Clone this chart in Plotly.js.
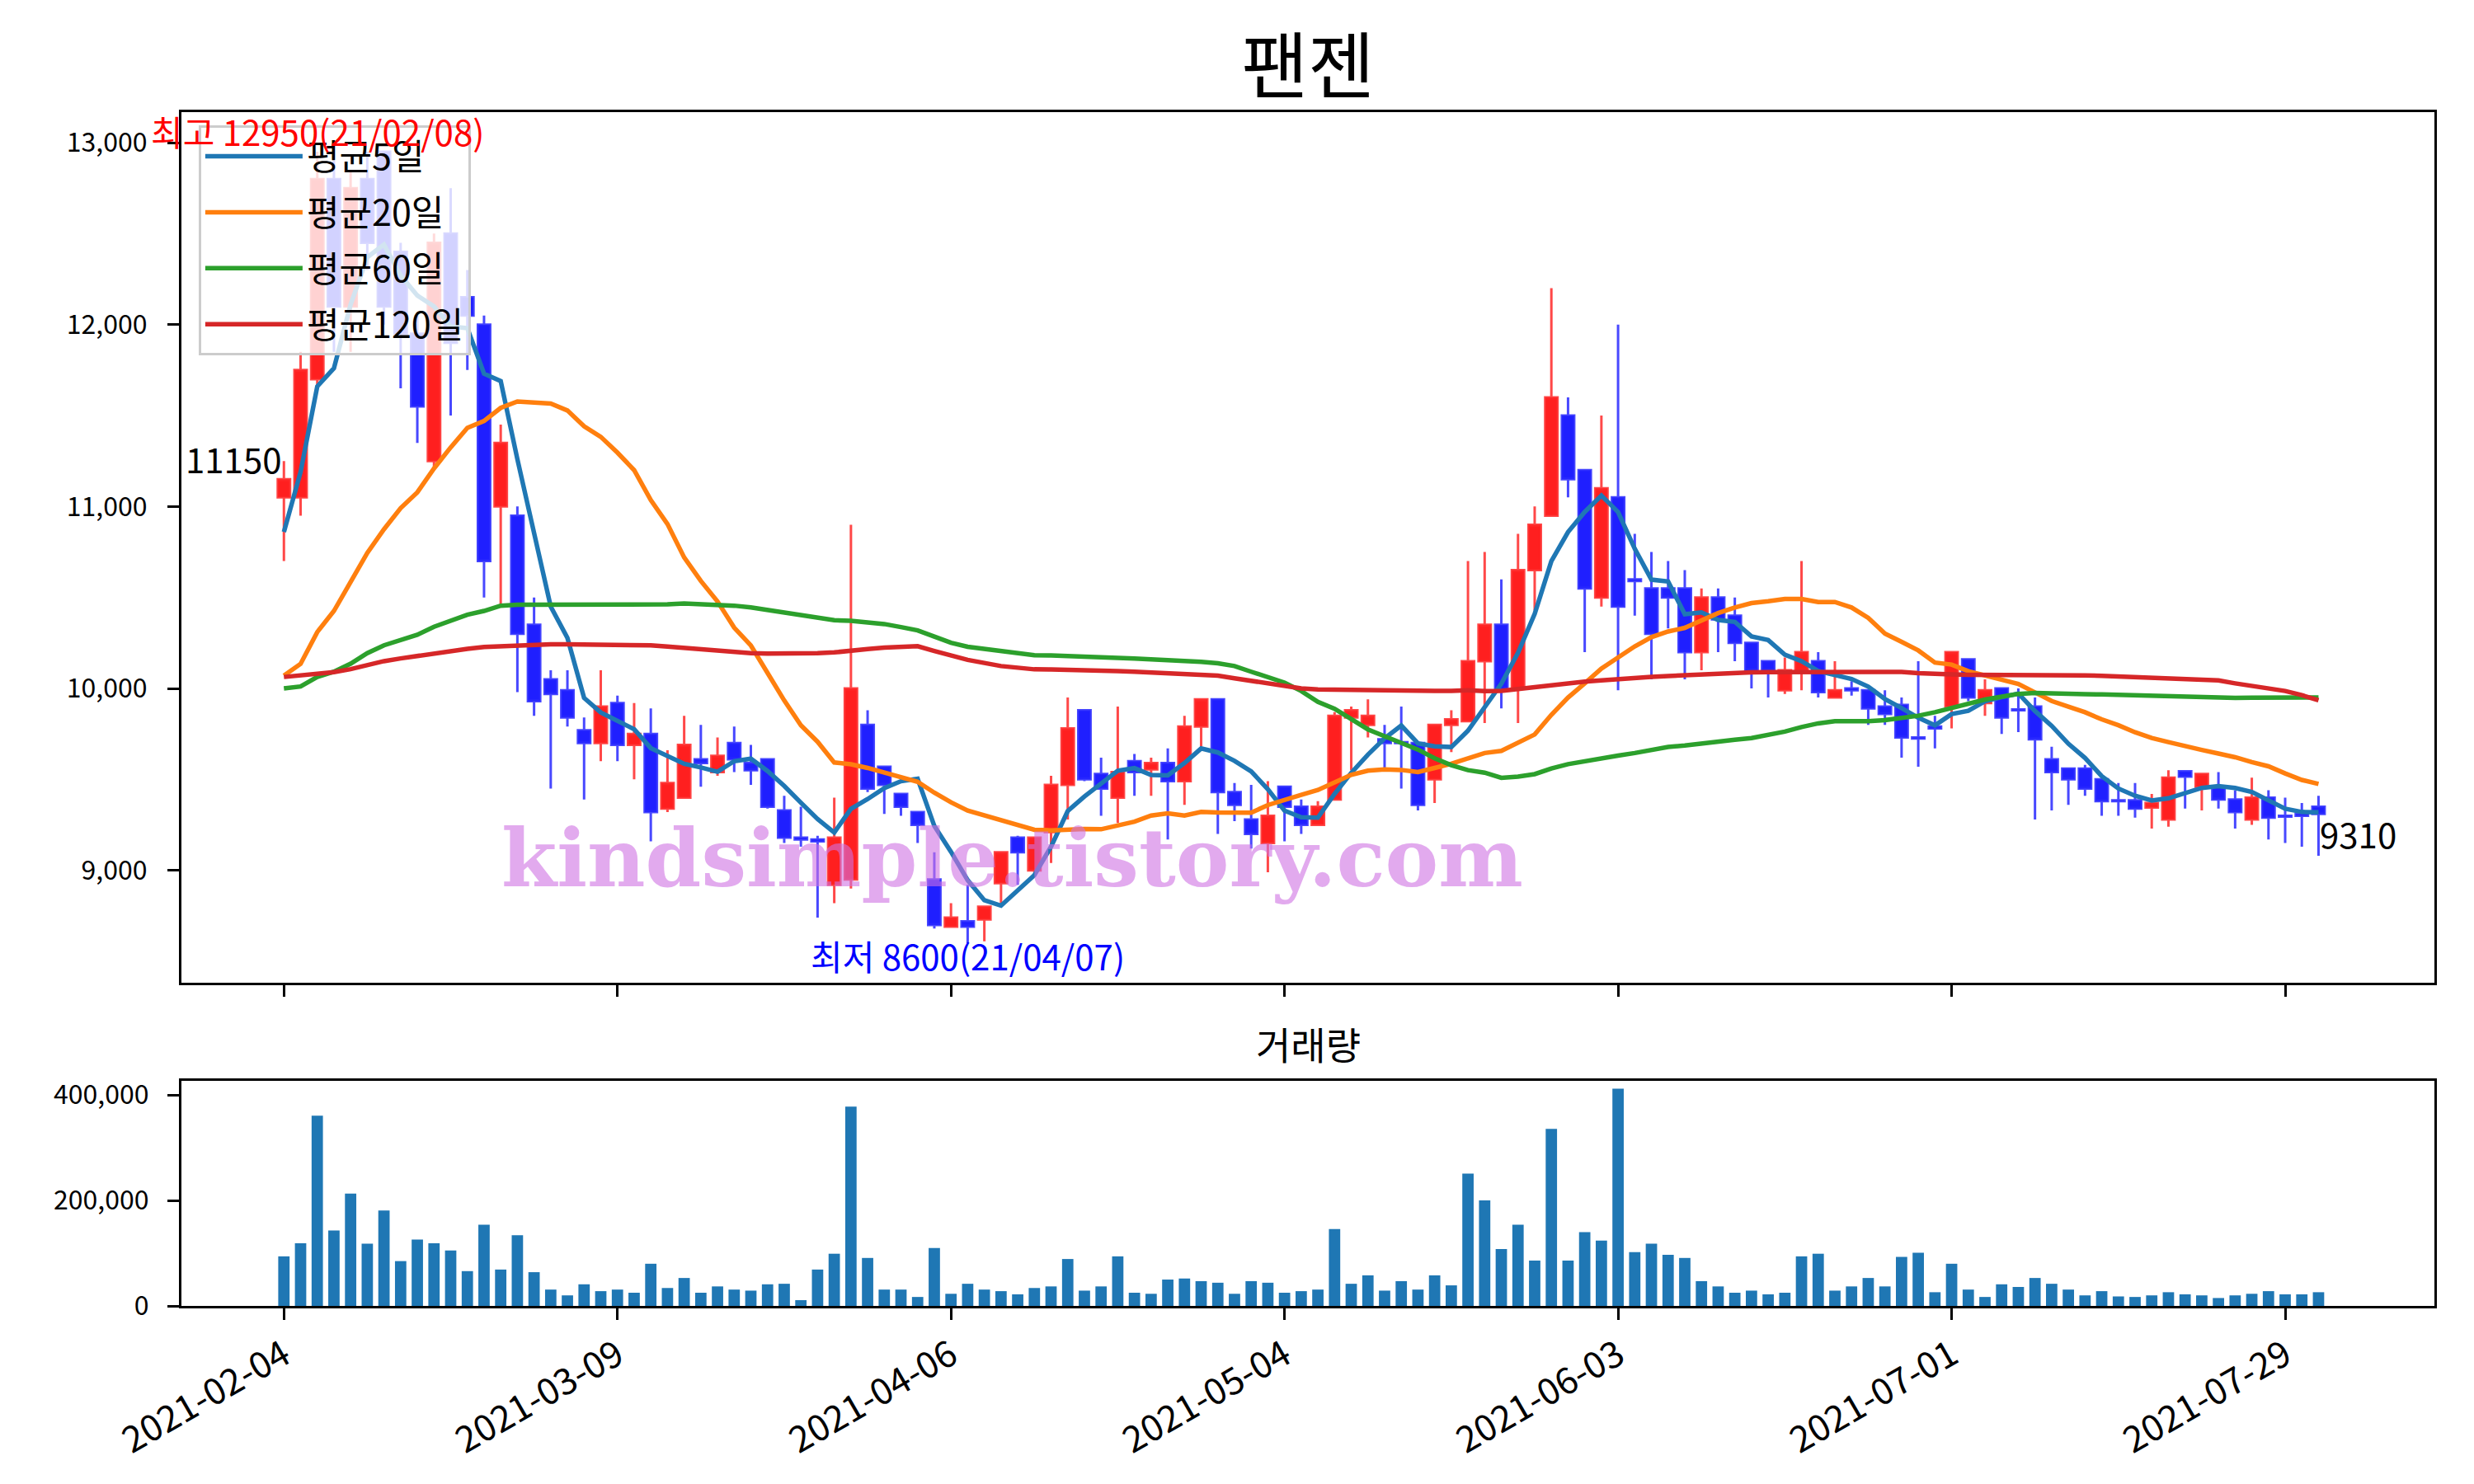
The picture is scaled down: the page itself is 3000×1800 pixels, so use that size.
<!DOCTYPE html>
<html>
<head>
<meta charset="utf-8">
<script src="https://cdn.plot.ly/plotly-2.35.2.min.js"></script>
<style>html,body{margin:0;padding:0;background:#fff;}#chart{width:3000px;height:1800px;}</style>
</head>
<body>
<div id="chart"></div>
<script>
// ---- data ----
const dates = [
'2021-02-04','2021-02-05','2021-02-08','2021-02-09','2021-02-10','2021-02-15','2021-02-16','2021-02-17','2021-02-18','2021-02-19',
'2021-02-22','2021-02-23','2021-02-24','2021-02-25','2021-02-26','2021-03-02','2021-03-03','2021-03-04','2021-03-05','2021-03-08',
'2021-03-09','2021-03-10','2021-03-11','2021-03-12','2021-03-15','2021-03-16','2021-03-17','2021-03-18','2021-03-19','2021-03-22',
'2021-03-23','2021-03-24','2021-03-25','2021-03-26','2021-03-29','2021-03-30','2021-03-31','2021-04-01','2021-04-02','2021-04-05',
'2021-04-06','2021-04-07','2021-04-08','2021-04-09','2021-04-12','2021-04-13','2021-04-14','2021-04-15','2021-04-16','2021-04-19',
'2021-04-20','2021-04-21','2021-04-22','2021-04-23','2021-04-26','2021-04-27','2021-04-28','2021-04-29','2021-04-30','2021-05-03',
'2021-05-04','2021-05-06','2021-05-07','2021-05-10','2021-05-11','2021-05-12','2021-05-13','2021-05-14','2021-05-17','2021-05-18',
'2021-05-20','2021-05-21','2021-05-24','2021-05-25','2021-05-26','2021-05-27','2021-05-28','2021-05-31','2021-06-01','2021-06-02',
'2021-06-03','2021-06-04','2021-06-07','2021-06-08','2021-06-09','2021-06-10','2021-06-11','2021-06-14','2021-06-15','2021-06-16',
'2021-06-17','2021-06-18','2021-06-21','2021-06-22','2021-06-23','2021-06-24','2021-06-25','2021-06-28','2021-06-29','2021-06-30',
'2021-07-01','2021-07-02','2021-07-05','2021-07-06','2021-07-07','2021-07-08','2021-07-09','2021-07-12','2021-07-13','2021-07-14',
'2021-07-15','2021-07-16','2021-07-19','2021-07-20','2021-07-21','2021-07-22','2021-07-23','2021-07-26','2021-07-27','2021-07-28',
'2021-07-29','2021-07-30','2021-08-02'];

const open = [
11050,11050,11700,12800,12100,12800,12950,12400,11950,11250,
12500,12150,12000,11000,10950,10350,10050,9990,9770,9700,
9920,9690,9750,9340,9400,9610,9540,9700,9590,9610,
9330,9180,9170,8920,8950,9800,9570,9420,9320,8950,
8690,8720,8730,8930,9180,9000,9210,9470,9880,9530,
9400,9600,9555,9590,9490,9790,9940,9430,9280,9150,
9460,9350,9250,9390,9840,9800,9720,9705,9700,9500,
9800,9820,10150,10350,10000,10650,10950,11500,11200,10500,
11050,10600,10550,10550,10550,10200,10500,10400,10250,10150,
9990,10100,10150,9950,10000,9990,9900,9910,9730,9790,
9900,10160,9920,10000,9885,9900,9610,9560,9560,9500,
9385,9385,9345,9280,9545,9460,9460,9390,9280,9400,
9300,9310,9350];
const high = [
11250,11850,12950,12900,12850,12950,12950,12450,12050,12500,
12750,12300,12050,11450,11000,10500,10100,10100,9840,10100,
9960,9920,9890,9660,9850,9800,9730,9790,9690,9610,
9410,9350,9190,9400,10900,9880,9570,9420,9320,9100,
8820,8920,8800,9100,9190,9180,9520,9950,9880,9620,
9900,9640,9620,9670,9850,9940,9940,9480,9470,9490,
9460,9390,9380,9870,9900,9940,9800,9900,9700,9800,
9880,10700,10750,10600,10850,11000,12200,11600,11200,11500,
12000,10850,10750,10700,10650,10550,10550,10500,10250,10150,
10170,10700,10200,10150,10040,9990,9990,9950,10150,9850,
10200,10160,10050,10000,10000,9950,9680,9560,9580,9500,
9480,9480,9420,9550,9545,9530,9540,9440,9510,9440,
9400,9370,9410];
const low = [
10700,10950,11650,11850,11850,12300,12000,11650,11350,11200,
11500,11750,10500,10450,9980,9850,9450,9790,9390,9600,
9600,9500,9160,9320,9400,9460,9520,9540,9470,9340,
9150,9130,8740,8820,8900,9430,9310,9300,9150,8680,
8690,8600,8610,8820,8920,8990,9040,9280,9490,9300,
9260,9410,9410,9170,9360,9680,9200,9270,9120,8990,
9160,9200,9250,9390,9550,9730,9560,9450,9330,9370,
9650,9820,9810,9890,9810,10430,10950,11050,10200,10450,
9990,10400,10050,10330,10050,10100,10200,10150,10000,9950,
9970,9990,9950,9950,9960,9800,9800,9620,9570,9670,
9780,9930,9850,9750,9760,9280,9330,9360,9410,9300,
9300,9290,9230,9240,9340,9330,9340,9230,9250,9170,
9150,9130,9080];
const close = [
11150,11750,12800,12100,12750,12450,12100,11950,11550,12450,
11900,12050,10700,11350,10300,9930,9970,9840,9700,9900,
9690,9750,9320,9480,9690,9590,9630,9610,9550,9350,
9180,9170,9160,9180,10000,9450,9470,9350,9250,8700,
8740,8690,8800,9100,9100,9180,9470,9780,9500,9450,
9540,9540,9590,9490,9790,9940,9430,9360,9200,9300,
9350,9250,9350,9850,9880,9850,9700,9700,9360,9800,
9830,10150,10350,10000,10650,10900,11600,11150,10550,11100,
10450,10590,10300,10500,10200,10500,10380,10250,10100,10100,
10100,10200,9980,9990,9990,9890,9860,9730,9725,9780,
10200,9950,9990,9840,9880,9720,9540,9500,9450,9380,
9380,9340,9370,9510,9515,9530,9390,9320,9400,9290,
9295,9300,9310];
const volume = [
94000,119000,361000,143000,213000,118000,181000,85000,126000,119000,
105000,66000,154000,69000,134000,64000,31000,20000,41000,28000,
31000,25000,80000,34000,53000,25000,37000,31000,29000,41000,
42000,11000,69000,99000,378000,91000,31000,31000,17000,110000,
23000,42000,31000,28000,22000,34000,37000,89000,29000,37000,
94000,25000,23000,50000,52000,47000,44000,23000,47000,44000,
25000,28000,31000,146000,42000,58000,29000,47000,31000,58000,
39000,251000,200000,108000,154000,86000,336000,86000,140000,124000,
412000,102000,118000,97000,91000,47000,37000,25000,29000,22000,
25000,94000,99000,29000,37000,53000,37000,93000,101000,26000,
80000,31000,17000,41000,36000,53000,42000,31000,20000,28000,
18000,17000,20000,26000,22000,20000,15000,20000,23000,28000,
22000,22000,26000];
// moving averages as drawn (they include days before the window)
const ma5head = [10860,11190,11660,11760];
const ma20 = [
10070,10135,10310,10426,10585,10745,10875,10991,11078,11209,
11325,11432,11470,11542,11577,11571,11566,11528,11441,11383,
11296,11200,11035,10904,10720,10591,10478,10334,10236,10085,
9934,9797,9707,9593,9583,9563,9537,9513,9487,9427,
9374,9329,9302,9279,9246,9223,9220,9226,9228,9226,
9245,9268,9301,9313,9301,9321,9318,9317,9317,9359,
9389,9415,9442,9483,9525,9548,9555,9552,9540,9563,
9586,9616,9645,9657,9702,9747,9855,9950,10028,10109,
10170,10231,10282,10313,10333,10374,10414,10445,10469,10479,
10492,10492,10475,10475,10445,10388,10302,10256,10209,10142,
10131,10095,10072,10048,10025,9978,9931,9900,9869,9830,
9798,9759,9728,9705,9681,9662,9642,9622,9595,9572,
9533,9497,9475];
const ma60 = [
10000,10011,10063,10092,10136,10194,10237,10266,10295,10339,
10373,10405,10426,10455,10460,10460,10462,10460,10460,10462,
10462,10462,10460,10462,10467,10465,10463,10455,10445,10432,
10418,10402,10387,10375,10372,10363,10354,10337,10319,10285,
10251,10229,10217,10206,10194,10183,10181,10179,10176,10172,
10168,10164,10160,10157,10153,10146,10138,10123,10092,10062,
10032,9986,9926,9888,9835,9775,9737,9699,9664,9616,
9578,9551,9537,9509,9515,9529,9560,9584,9600,9621,
9631,9645,9661,9678,9686,9698,9710,9718,9727,9743,
9763,9788,9808,9820,9818,9820,9826,9838,9850,9869,
9892,9916,9939,9955,9970,9975,9975,9970,9969,9967,
9964,9961,9959,9958,9955,9950,9948,9948,9949,9949,
9949,9950,9950];
const ma120 = [
10063,10070,10077,10090,10106,10128,10150,10165,10179,10194,
10208,10218,10228,10233,10237,10240,10243,10243,10243,10243,
10243,10241,10237,10230,10222,10212,10206,10200,10194,10192,
10191,10192,10194,10198,10209,10217,10224,10228,10232,10206,
10179,10157,10140,10123,10114,10105,10104,10103,10103,10099,
10095,10092,10088,10083,10077,10073,10070,10056,10042,10025,
10009,10000,9994,9992,9991,9991,9991,9990,9986,9986,
9986,9990,9985,9987,9997,10007,10022,10032,10038,10044,
10052,10058,10064,10068,10072,10078,10085,10088,10089,10090,
10090,10090,10090,10090,10090,10090,10091,10091,10084,10078,
10077,10075,10075,10076,10076,10076,10076,10075,10072,10069,
10066,10062,10059,10056,10053,10048,10044,10028,10013,10002,
9986,9963,9935];
const tickDates = ['2021-02-04','2021-03-09','2021-04-06','2021-05-04','2021-06-03','2021-07-01','2021-07-29'];
const priceTicks = [9000,10000,11000,12000,13000];
const volTicks = [0,200000,400000];
const maNames = ['평균5일','평균20일','평균60일','평균120일'];
const maColors = ['#1f77b4','#ff7f0e','#2ca02c','#d62728'];
const titleText = '팬젠';
const volTitle = '거래량';
const watermark = 'kindsimple.tistory.com';
const hiDate = '2021-02-08', hiVal = 12950;
const loDate = '2021-04-07', loVal = 8600;

// 5-day average of the closes (first days come from before the window)
const ma5 = close.map((c, i) => i < 4 ? ma5head[i] : (close.slice(i - 4, i + 1).reduce((a, b) => a + b, 0) / 5));

const FONT = '"Noto Sans CJK KR", "Noto Sans", sans-serif';
const xr = [-6.15, 128.95];

const traces = [];
traces.push({
  type: 'candlestick', x: dates, open: open, high: high, low: low, close: close,
  xaxis: 'x', yaxis: 'y', showlegend: false, whiskerwidth: 0,
  increasing: {line: {color: 'rgba(255,40,40,0.85)', width: 3}, fillcolor: 'rgba(255,0,0,0.88)'},
  decreasing: {line: {color: 'rgba(40,40,255,0.85)', width: 3}, fillcolor: 'rgba(0,0,255,0.88)'},
  hoverinfo: 'skip'
});
[ma5, ma20, ma60, ma120].forEach((arr, k) => {
  traces.push({type: 'scatter', mode: 'lines', x: dates, y: arr, name: maNames[k],
    legendgroup: 'g' + k, line: {color: maColors[k], width: 5.5}, xaxis: 'x', yaxis: 'y', hoverinfo: 'skip'});
});
traces.push({type: 'bar', x: dates, y: volume, xaxis: 'x2', yaxis: 'y2', showlegend: false,
  marker: {color: '#1f77b4', line: {width: 0}}, width: 0.68, hoverinfo: 'skip'});

const axBase = {showline: true, linecolor: '#000', linewidth: 3, mirror: true, showgrid: false, zeroline: false,
  ticks: 'outside', ticklen: 14, tickwidth: 3, tickcolor: '#000', tickfont: {family: FONT, size: 32, color: '#000'}};

const layout = {
  width: 3000, height: 1800, margin: {l: 0, r: 0, t: 0, b: 0},
  paper_bgcolor: '#fff', plot_bgcolor: '#fff',
  boxgap: 0.26, boxgroupgap: 0, bargap: 0.3,
  font: {family: FONT, color: '#000'},
  title: {text: titleText, x: 0.5287, xanchor: 'center', y: 0.955, yanchor: 'middle', font: {family: FONT, size: 88, color: '#000'}},
  xaxis: Object.assign({}, axBase, {domain: [0.0733, 0.984], anchor: 'y', type: 'category', range: xr,
    tickvals: tickDates, showticklabels: false, rangeslider: {visible: false}}),
  yaxis: Object.assign({}, axBase, {domain: [0.3378, 0.9244], anchor: 'x', range: [8382.5, 13167.5],
    tickvals: priceTicks, tickformat: ',d', ticklabelstandoff: 18}),
  xaxis2: Object.assign({}, axBase, {domain: [0.0733, 0.984], anchor: 'y2', type: 'category', range: xr,
    tickvals: tickDates, ticktext: tickDates, tickangle: -30, tickfont: {family: FONT, size: 44, color: '#000'}}),
  yaxis2: Object.assign({}, axBase, {domain: [0.12, 0.2717], anchor: 'x2', range: [0, 427000],
    tickvals: volTicks, tickformat: ',d', ticklabelstandoff: 16}),
  legend: {x: 0.0803, y: 0.9155, xanchor: 'left', yanchor: 'top', bgcolor: 'rgba(255,255,255,0.8)',
    bordercolor: '#cccccc', borderwidth: 3, font: {family: FONT, size: 43, color: '#000'},
    tracegroupgap: 9, itemwidth: 118},
  annotations: [
    {xref: 'x', yref: 'y', x: hiDate, y: hiVal, text: '최고 ' + hiVal + '(21/02/08)', showarrow: false, yshift: -7,
      xanchor: 'center', yanchor: 'bottom', font: {family: FONT, size: 42, color: '#ff0000'}},
    {xref: 'x', yref: 'y', x: loDate, y: loVal, text: '최저 ' + loVal + '(21/04/07)', showarrow: false, yshift: 18,
      xanchor: 'center', yanchor: 'top', font: {family: FONT, size: 42, color: '#0000ff'}},
    {xref: 'x', yref: 'y', x: dates[0], y: close[0], text: String(close[0]), showarrow: false, yshift: -7,
      xanchor: 'right', yanchor: 'bottom', font: {family: FONT, size: 42, color: '#000'}},
    {xref: 'x', yref: 'y', x: dates[dates.length - 1], y: close[close.length - 1], text: String(close[close.length - 1]), showarrow: false, yshift: 9,
      xanchor: 'left', yanchor: 'top', font: {family: FONT, size: 42, color: '#000'}},
    {xref: 'paper', yref: 'paper', x: 0.5287, y: 0.297, text: volTitle, showarrow: false,
      xanchor: 'center', yanchor: 'middle', font: {family: FONT, size: 46, color: '#000'}},
    {xref: 'paper', yref: 'paper', x: 0.4093, y: 0.4215, text: '<b>' + watermark + '</b>', showarrow: false,
      xanchor: 'center', yanchor: 'middle', font: {family: '"DejaVu Serif", serif', size: 97, color: 'rgba(207,113,227,0.6)'}}
  ]
};

Plotly.newPlot('chart', traces, layout, {staticPlot: true});
</script>
</body>
</html>
